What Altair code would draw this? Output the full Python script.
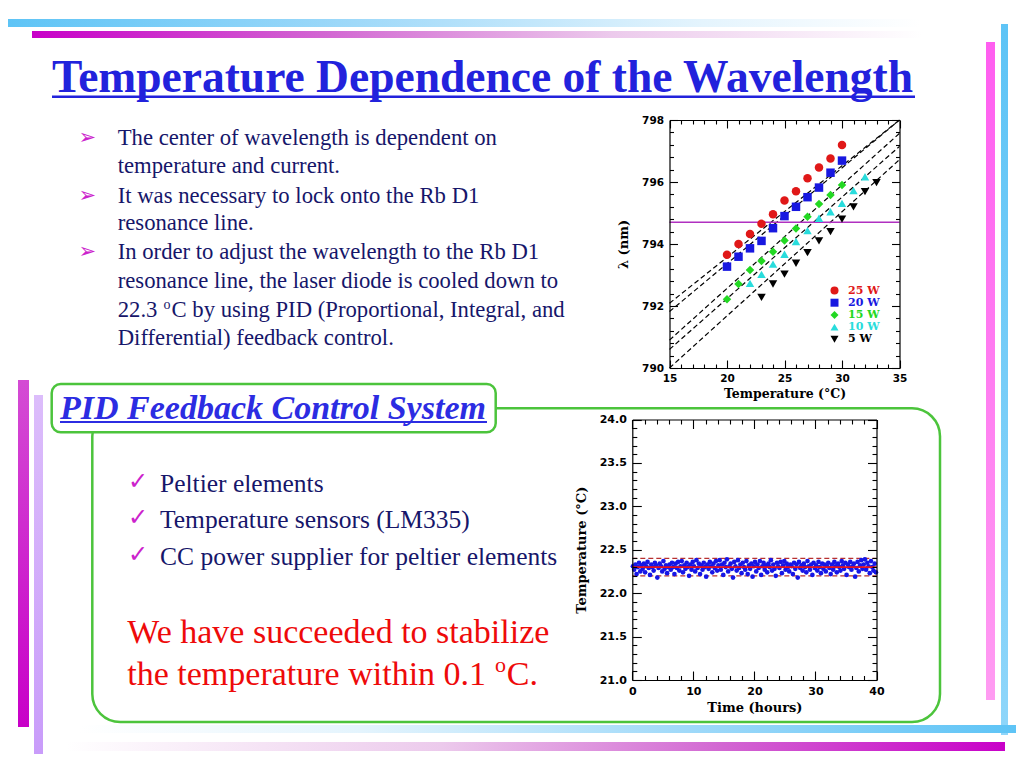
import altair as alt
import pandas as pd

W, H = 1008, 752
OX, OY = 8, 8


def px(x):
    return x - OX


def py(y):
    return y - OY


# ---------------- text content ----------------
title_text = "Temperature Dependence of the Wavelength"
bullet_lines = [
    "The center of wavelength is dependent on",
    "temperature and current.",
    "It was necessary to lock onto the Rb D1",
    "resonance line.",
    "In order to adjust the wavelength to the Rb D1",
    "resonance line, the laser diode is cooled down to",
    "22.3",
    "Differential) feedback control.",
]
bullet_line7_sup = "o"
bullet_line7_rest = "C by using PID (Proportional, Integral, and"
bullet_arrow = "\u27a2"
section_title = "PID Feedback Control System"
check_mark = "\u2713"
check_items = ["Peltier elements", "Temperature sensors (LM335)",
               "CC power supplier for peltier elements"]
conclusion = ["We have succeeded to stabilize", "the temperature within 0.1"]
conclusion_sup = "o"
conclusion_end = "C."

# ---------------- chart 1 data: wavelength vs temperature ----------------
series_names = ["25 W", "20 W", "15 W", "10 W", "5 W"]
series_colors = ["#e01818", "#1818e0", "#22d822", "#28dcdc", "#000000"]
series_shapes = ["circle", "square", "diamond", "triangle-up", "triangle-down"]

temp_25 = [20, 21, 22, 23, 24, 25, 26, 27, 28, 29, 30]
lam_25 = [793.65, 794.00, 794.32, 794.65, 794.96, 795.40, 795.70, 796.12, 796.47, 796.76, 797.19]
temp_20 = [20, 21, 22, 23, 24, 25, 26, 27, 28, 29, 30]
lam_20 = [793.27, 793.59, 793.86, 794.10, 794.51, 794.90, 795.20, 795.51, 795.82, 796.30, 796.69]
temp_15 = [20, 21, 22, 23, 24, 25, 26, 27, 28, 29, 30]
lam_15 = [792.22, 792.71, 793.16, 793.45, 793.75, 794.11, 794.50, 794.88, 795.29, 795.58, 795.90]
temp_10 = [22, 23, 24, 25, 26, 27, 28, 29, 30, 31, 32]
lam_10 = [792.73, 793.02, 793.35, 793.67, 794.08, 794.43, 794.83, 795.04, 795.31, 795.72, 796.17]
temp_5 = [23, 24, 25, 26, 27, 28, 29, 30, 31, 32, 33]
lam_5 = [792.28, 792.71, 793.03, 793.38, 793.72, 794.10, 794.40, 794.80, 795.20, 795.69, 795.98]

fit_temp = [15, 35]
fit_lam_at_15 = [792.09, 791.82, 790.90, 790.60, 789.36]
fit_lam_at_35 = [798.89, 798.31, 797.57, 797.15, 796.72]
rb_d1_line = 794.7

c1_x_domain = [15, 35]
c1_y_domain = [790, 798]
c1_x_labels = [15, 20, 25, 30, 35]
c1_x_ticks = list(range(15, 36))
c1_y_labels = [790, 792, 794, 796, 798]
c1_y_ticks = [round(790 + 0.4 * i, 1) for i in range(21)]

# ---------------- chart 2 data: temperature vs time ----------------
hours = [
    0.1, 0.3, 0.5, 0.7, 0.9, 1.1, 1.3, 1.5, 1.7, 1.9,
    2.1, 2.3, 2.5, 2.7, 2.9, 3.1, 3.3, 3.5, 3.7, 3.9,
    4.1, 4.3, 4.5, 4.7, 4.9, 5.1, 5.3, 5.5, 5.7, 5.9,
    6.1, 6.3, 6.5, 6.7, 6.9, 7.1, 7.3, 7.5, 7.7, 7.9,
    8.1, 8.3, 8.5, 8.7, 8.9, 9.1, 9.3, 9.5, 9.7, 9.9,
    10.1, 10.3, 10.5, 10.7, 10.9, 11.1, 11.3, 11.5, 11.7, 11.9,
    12.1, 12.3, 12.5, 12.7, 12.9, 13.1, 13.3, 13.5, 13.7, 13.9,
    14.1, 14.3, 14.5, 14.7, 14.9, 15.1, 15.3, 15.5, 15.7, 15.9,
    16.1, 16.3, 16.5, 16.7, 16.9, 17.1, 17.3, 17.5, 17.7, 17.9,
    18.1, 18.3, 18.5, 18.7, 18.9, 19.1, 19.3, 19.5, 19.7, 19.9,
    20.1, 20.3, 20.5, 20.7, 20.9, 21.1, 21.3, 21.5, 21.7, 21.9,
    22.1, 22.3, 22.5, 22.7, 22.9, 23.1, 23.3, 23.5, 23.7, 23.9,
    24.1, 24.3, 24.5, 24.7, 24.9, 25.1, 25.3, 25.5, 25.7, 25.9,
    26.1, 26.3, 26.5, 26.7, 26.9, 27.1, 27.3, 27.5, 27.7, 27.9,
    28.1, 28.3, 28.5, 28.7, 28.9, 29.1, 29.3, 29.5, 29.7, 29.9,
    30.1, 30.3, 30.5, 30.7, 30.9, 31.1, 31.3, 31.5, 31.7, 31.9,
    32.1, 32.3, 32.5, 32.7, 32.9, 33.1, 33.3, 33.5, 33.7, 33.9,
    34.1, 34.3, 34.5, 34.7, 34.9, 35.1, 35.3, 35.5, 35.7, 35.9,
    36.1, 36.3, 36.5, 36.7, 36.9, 37.1, 37.3, 37.5, 37.7, 37.9,
    38.1, 38.3, 38.5, 38.7, 38.9, 39.1, 39.3, 39.5, 39.7, 39.9,
]
temperature = [
    22.31, 22.27, 22.33, 22.22, 22.30, 22.35, 22.25, 22.32, 22.28, 22.34,
    22.24, 22.31, 22.36, 22.29, 22.21, 22.33, 22.30, 22.26, 22.35, 22.32,
    22.18, 22.29, 22.34, 22.31, 22.25, 22.37, 22.28, 22.32, 22.23, 22.30,
    22.33, 22.27, 22.35, 22.30, 22.22, 22.34, 22.29, 22.36, 22.26, 22.31,
    22.37, 22.24, 22.32, 22.28, 22.35, 22.30, 22.20, 22.33, 22.27, 22.36,
    22.31, 22.25, 22.38, 22.29, 22.34, 22.22, 22.32, 22.27, 22.35, 22.30,
    22.19, 22.33, 22.28, 22.36, 22.31, 22.24, 22.34, 22.29, 22.37, 22.26,
    22.32, 22.38, 22.27, 22.33, 22.21, 22.35, 22.30, 22.39, 22.25, 22.31,
    22.34, 22.28, 22.18, 22.36, 22.31, 22.26, 22.38, 22.29, 22.33, 22.23,
    22.35, 22.30, 22.27, 22.37, 22.22, 22.32, 22.28, 22.34, 22.19, 22.31,
    22.36, 22.25, 22.33, 22.29, 22.37, 22.21, 22.31, 22.35, 22.27, 22.32,
    22.24, 22.34, 22.30, 22.38, 22.26, 22.33, 22.28, 22.20, 22.35, 22.31,
    22.29, 22.36, 22.23, 22.32, 22.37, 22.27, 22.34, 22.30, 22.25, 22.33,
    22.31, 22.22, 22.35, 22.28, 22.33, 22.18, 22.36, 22.29, 22.32, 22.26,
    22.34, 22.30, 22.24, 22.37, 22.31, 22.27, 22.33, 22.21, 22.35, 22.29,
    22.32, 22.26, 22.36, 22.30, 22.23, 22.34, 22.28, 22.33, 22.25, 22.31,
    22.35, 22.29, 22.22, 22.33, 22.27, 22.36, 22.31, 22.24, 22.34, 22.30,
    22.26, 22.37, 22.32, 22.28, 22.35, 22.21, 22.33, 22.30, 22.36, 22.27,
    22.31, 22.34, 22.19, 22.29, 22.36, 22.25, 22.32, 22.38, 22.28, 22.33,
    22.39, 22.27, 22.35, 22.31, 22.23, 22.37, 22.30, 22.26, 22.34, 22.24,
]
setpoint = 22.3
band_levels = [22.2, 22.4]
time_span = [0, 40]

c2_x_domain = [0, 40]
c2_y_domain = [21.0, 24.0]
c2_x_labels = [0, 10, 20, 30, 40]
c2_x_ticks = list(range(0, 41, 2))
c2_y_labels = [21.0, 21.5, 22.0, 22.5, 23.0, 23.5, 24.0]
c2_y_ticks = [round(21.0 + 0.1 * i, 1) for i in range(31)]

# ---------------- styles ----------------
NAVY = "#16166a"
TITLE_BLUE = "#2222dc"
PID_BLUE = "#2c2ce2"
MAGENTA_MARK = "#cc22cc"
RED_TEXT = "#ee0a0a"
GREEN = "#4cc43c"
SERIF = "Liberation Serif, Times New Roman, serif"

ONE = pd.DataFrame({"k": [0]})


def grad(stops, x1=0, y1=0, x2=1, y2=0):
    return {"gradient": "linear", "x1": x1, "y1": y1, "x2": x2, "y2": y2,
            "stops": [{"offset": o, "color": c} for o, c in stops]}


def rect(x1, y1, x2, y2, **mark):
    return alt.Chart(ONE).mark_rect(**mark).encode(
        x=alt.value(px(x1)), x2=alt.value(px(x2)),
        y=alt.value(py(y1)), y2=alt.value(py(y2)))


def text(s, x, y, size, color, font=SERIF, weight="normal", style="normal"):
    return alt.Chart(pd.DataFrame({"t": [s]})).mark_text(
        align="left", baseline="alphabetic", fontSize=size, font=font,
        fontWeight=weight, fontStyle=style, color=color).encode(
        text="t:N", x=alt.value(px(x)), y=alt.value(py(y)))


def label_axis(orient, offset, values, fmt, title, title_pad, label_pad, lsize, tsize):
    return alt.Axis(orient=orient, offset=offset, values=values, format=fmt,
                    ticks=False, domain=False, grid=False, zindex=1,
                    labelPadding=label_pad, labelFont="DejaVu Sans", labelFontWeight="bold",
                    labelFontSize=lsize, labelColor="black", labelFlush=False,
                    labelOverlap=False, title=title, titleFont="DejaVu Serif",
                    titleFontWeight="bold", titleFontSize=tsize, titleColor="black",
                    titlePadding=title_pad)


def tick_axis(orient, offset, values, test, major, minor):
    return alt.Axis(orient=orient, offset=offset, values=values, labels=False, title=None,
                    grid=False, domain=True, domainColor="black", domainWidth=1.2,
                    ticks=True, tickColor="black", tickWidth=1.1, zindex=1,
                    tickSize={"condition": {"test": test, "value": major}, "value": minor})


layers = []

# ---------------- slide decorations ----------------
CYAN = "#5ec4f6"
MAG = "#c800c8"
layers += [
    rect(8, 19, 1000, 27, fill=grad([(0, CYAN), (0.35, "#9fd9f9"), (0.7, "#e4f4fd"), (0.92, "#ffffff")]), strokeWidth=0),
    rect(32, 31, 1000, 38, fill=grad([(0, MAG), (0.3, "#d266d2"), (0.6, "#eccaec"), (0.92, "#ffffff")]), strokeWidth=0),
    rect(986, 42, 995, 700, fill=grad([(0, "#ff5ef0"), (1, "#ff9cf2")], 0, 0, 0, 1), strokeWidth=0),
    rect(1001, 24, 1008, 735, fill=grad([(0, CYAN), (1, "#8fd6fa")], 0, 0, 0, 1), strokeWidth=0),
    rect(80, 725, 1016, 733, fill=grad([(0, "#ffffff"), (0.3, "#e4f4fd"), (0.65, "#9fd9f9"), (1, CYAN)]), strokeWidth=0),
    rect(66, 742, 1005, 751, fill=grad([(0, "#ffffff"), (0.4, "#eccaec"), (0.7, "#d266d2"), (1, MAG)]), strokeWidth=0),
    rect(18, 380, 29, 727, fill=grad([(0, "#d44cd4"), (1, MAG)], 0, 0, 0, 1), strokeWidth=0),
    rect(34, 395, 43, 754, fill=grad([(0, "#dcbdfb"), (1, "#c99cfa")], 0, 0, 0, 1), strokeWidth=0),
]

# ---------------- title ----------------
layers += [
    text(title_text, 52, 92, 45.5, TITLE_BLUE, weight="bold"),
    rect(52, 95.5, 915, 98, fill=TITLE_BLUE, strokeWidth=0),
]

# ---------------- bullet text ----------------
bullet_baselines = [145, 173.3, 202.7, 230, 259.3, 288.3, 316.7, 345]
for i, line in enumerate(bullet_lines):
    layers.append(text(line, 117.7, bullet_baselines[i], 22.7, NAVY))
layers.append(text(bullet_line7_sup, 163.5, bullet_baselines[6] - 8, 14, NAVY))
layers.append(text(bullet_line7_rest, 171.5, bullet_baselines[6], 22.7, NAVY))
for i in (0, 2, 4):
    layers.append(text(bullet_arrow, 78.5, bullet_baselines[i] - 1, 21, MAGENTA_MARK, font="DejaVu Sans"))

# ---------------- green boxes ----------------
layers += [
    rect(92.3, 408.3, 940, 722, fill="white", fillOpacity=0, stroke=GREEN, strokeWidth=2.5, cornerRadius=28),
    rect(51.7, 384, 495.7, 432.3, fill="white", stroke=GREEN, strokeWidth=2.5, cornerRadius=9),
    text(section_title, 60, 419, 34, PID_BLUE, weight="bold", style="italic"),
    rect(60, 421, 487, 423, fill=PID_BLUE, strokeWidth=0),
]

check_baselines = [491.7, 528.3, 565]
for i, item in enumerate(check_items):
    layers.append(text(check_mark, 128, check_baselines[i] - 3, 24, MAGENTA_MARK,
                       font="DejaVu Sans", weight="bold"))
    layers.append(text(item, 160, check_baselines[i], 25.5, NAVY))

layers += [
    text(conclusion[0], 127.3, 643.3, 34, RED_TEXT),
    text(conclusion[1], 127.3, 685, 34, RED_TEXT),
    text(conclusion_sup, 495, 672, 22, RED_TEXT),
    text(conclusion_end, 506.7, 685, 34, RED_TEXT),
]

# ---------------- chart 1 ----------------
X_L1, X_R1, Y_T1, Y_B1 = px(669.5), px(899.5), py(120), py(368)
sx1 = dict(domain=c1_x_domain, range=[X_L1, X_R1], nice=False, zero=False)
sy1 = dict(domain=c1_y_domain, range=[Y_B1, Y_T1], nice=False, zero=False)
c1_x_test = "datum.value % 5 === 0"
c1_y_test = "abs(datum.value / 2 - round(datum.value / 2)) < 0.01"

pts_rows = []
for name, ts, ls in zip(series_names, [temp_25, temp_20, temp_15, temp_10, temp_5],
                        [lam_25, lam_20, lam_15, lam_10, lam_5]):
    for t, l in zip(ts, ls):
        pts_rows.append({"series": name, "T": t, "lam": l})
pts1 = pd.DataFrame(pts_rows)

fit_rows = []
for name, lo, hi in zip(series_names, fit_lam_at_15, fit_lam_at_35):
    fit_rows.append({"series": name, "T": fit_temp[0], "lam": lo})
    fit_rows.append({"series": name, "T": fit_temp[1], "lam": hi})
fit1 = pd.DataFrame(fit_rows)

rb1 = pd.DataFrame({"T": c1_x_domain, "lam": [rb_d1_line, rb_d1_line]})

fit_layer = alt.Chart(fit1).mark_line(color="black", strokeDash=[5, 3], strokeWidth=1.2).encode(
    x=alt.X("T:Q", scale=alt.Scale(**sx1), axis=tick_axis("top", -Y_B1, c1_x_ticks, c1_x_test, 8, 4)),
    y=alt.Y("lam:Q", scale=alt.Scale(clamp=True, **sy1),
            axis=tick_axis("right", X_L1 - W, c1_y_ticks, c1_y_test, 8, 4)),
    detail="series:N",
)
rb_layer = alt.Chart(rb1).mark_line(color="#b030c0", strokeWidth=1.6).encode(
    x=alt.X("T:Q", scale=alt.Scale(**sx1), axis=tick_axis("bottom", Y_T1 - H, c1_x_ticks, c1_x_test, 8, 4)),
    y=alt.Y("lam:Q", scale=alt.Scale(**sy1), axis=tick_axis("left", -X_R1, c1_y_ticks, c1_y_test, 8, 4)),
)

color_expr = " : ".join(
    f"datum.value === '{n}' ? '{c}'" for n, c in zip(series_names[:-1], series_colors[:-1])
) + f" : '{series_colors[-1]}'"
legend1 = alt.Legend(orient="none", legendX=px(829), legendY=py(285), title=None, padding=0,
                     symbolSize=64, symbolStrokeWidth=0, rowPadding=0.2, labelOffset=8,
                     labelFont="DejaVu Serif", labelFontWeight="bold", labelFontSize=11,
                     labelColor={"expr": color_expr},
                     labelExpr="datum.label === '5 W' ? '\u20075 W' : datum.label")

pts_layer = alt.Chart(pts1).mark_point(filled=True, size=72, opacity=1).encode(
    x=alt.X("T:Q", scale=alt.Scale(**sx1),
            axis=label_axis("bottom", Y_B1 - H, c1_x_labels, "d", "Temperature (\u00b0C)", 4, 5, 10.5, 12.5)),
    y=alt.Y("lam:Q", scale=alt.Scale(**sy1),
            axis=label_axis("left", -X_L1, c1_y_labels, "d", "\u03bb (nm)", 11, 6, 10.5, 13)),
    color=alt.Color("series:N", scale=alt.Scale(domain=series_names, range=series_colors), legend=legend1),
    shape=alt.Shape("series:N", scale=alt.Scale(domain=series_names, range=series_shapes), legend=legend1),
)
layers += [fit_layer, rb_layer, pts_layer]

# ---------------- chart 2 ----------------
X_L2, X_R2, Y_T2, Y_B2 = px(632.3), px(876.5), py(419.5), py(680)
sx2 = dict(domain=c2_x_domain, range=[X_L2, X_R2], nice=False, zero=False)
sy2 = dict(domain=c2_y_domain, range=[Y_B2, Y_T2], nice=False, zero=False)
c2_x_test = "datum.value % 10 === 0"
c2_y_test = "abs(datum.value * 2 - round(datum.value * 2)) < 0.01"

pts2 = pd.DataFrame({"h": hours, "temp": temperature})
set2 = pd.DataFrame({"h": time_span, "temp": [setpoint, setpoint]})
band2 = pd.DataFrame({"h": time_span * 2,
                      "temp": [band_levels[0]] * 2 + [band_levels[1]] * 2,
                      "lvl": ["lo", "lo", "hi", "hi"]})

pts2_layer = alt.Chart(pts2).mark_circle(color="#1616e6", size=22, opacity=1).encode(
    x=alt.X("h:Q", scale=alt.Scale(**sx2),
            axis=label_axis("bottom", Y_B2 - H, c2_x_labels, "d", "Time (hours)", 5, 5, 11, 13)),
    y=alt.Y("temp:Q", scale=alt.Scale(**sy2),
            axis=label_axis("left", -X_L2, c2_y_labels, ".1f", "Temperature (\u00b0C)", 11, 6, 11, 13)),
)
band_layer = alt.Chart(band2).mark_line(color="#b83030", strokeDash=[5, 3], strokeWidth=1.2).encode(
    x=alt.X("h:Q", scale=alt.Scale(**sx2), axis=tick_axis("bottom", Y_T2 - H, c2_x_ticks, c2_x_test, 9, 4.5)),
    y=alt.Y("temp:Q", scale=alt.Scale(**sy2), axis=tick_axis("left", -X_R2, c2_y_ticks, c2_y_test, 9, 4.5)),
    detail="lvl:N",
)
set_layer = alt.Chart(set2).mark_line(color="#e8101c", strokeWidth=1.6).encode(
    x=alt.X("h:Q", scale=alt.Scale(**sx2), axis=tick_axis("top", -Y_B2, c2_x_ticks, c2_x_test, 9, 4.5)),
    y=alt.Y("temp:Q", scale=alt.Scale(**sy2), axis=tick_axis("right", X_L2 - W, c2_y_ticks, c2_y_test, 9, 4.5)),
)
layers += [band_layer, pts2_layer, set_layer]

chart = alt.layer(*layers).resolve_scale(
    x="independent", y="independent"
).resolve_axis(
    x="independent", y="independent"
).properties(
    width=W, height=H, padding=0, autosize="none", background="white"
).configure_view(stroke=None).configure_axis(grid=False)

chart.save("out.html", embed_options={"renderer": "svg", "actions": False})
